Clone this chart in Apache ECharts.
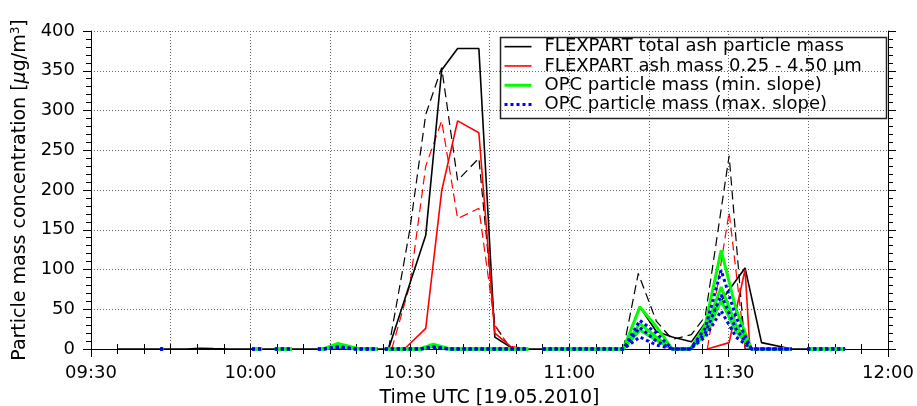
<!DOCTYPE html>
<html>
<head>
<meta charset="utf-8">
<script src="https://cdn.jsdelivr.net/npm/echarts@6/dist/echarts.min.js"></script>
<style>html,body{margin:0;padding:0;background:#fff}#c{width:917px;height:406px}</style>
</head>
<body>
<div id="c"></div>
<script>
// Times are minutes since 00:00 UTC
const xTickMinutes = [570, 600, 630, 660, 690, 720];

// FLEXPART total ash particle mass (solid)
const flexTotTime = [575, 588, 590.5, 593, 596, 626, 630, 633, 636, 639, 643, 646, 649, 652, 670.2, 673.3, 676.4, 679.4, 683.0, 693.1, 696.2, 701.9, 712];
const flexTotVal  = [0, 0, 1, 0.5, 0, 0, 82, 143, 351, 378, 378, 15, 2, 0, 0, 53, 22, 15, 9, 102, 8, 0, 0];

// FLEXPART total (dashed variant)
const flexTotDTime = [626, 630, 633, 636, 639, 643, 646, 649, 652, 670.2, 673.0, 676.4, 679.4, 683.0, 685.6, 690.1, 693.1, 696];
const flexTotDVal  = [0, 150, 295, 354, 212, 240, 30, 0, null, 0, 95, 35, 12, 18, 41, 243, 0, 0];

// FLEXPART ash mass 0.25-4.50 um (solid); null = not drawn
const flexSmTime = [629, 633, 636, 639, 643, 646, 649, 652, 670, 686, 690.1, 693.1, 694.0];
const flexSmVal  = [0, 26, 199, 287, 272, 20, 3, 0, null, 0, 8, 100, 0];

// FLEXPART ash mass 0.25-4.50 um (dashed variant)
const flexSmDTime = [626.6, 630, 633, 636, 639, 643, 646, 649, 670, 686, 690.1, 693.1];
const flexSmDVal  = [0, 80, 230, 287, 164, 177, 30, 0, null, 0, 172, 0];

// OPC time base (null values = no data)
const opcTime = [583.0, 583.6, 590, 600.3, 602.2, 603.4, 604.6, 607.8, 610, 612.7, 613.7, 616.5, 620.0, 624.0, 624.6, 625.3, 631.9, 634.4, 637.6, 652.3, 653.6, 655.0, 670.2, 673.3, 676.4, 679.4, 682.8, 685.6, 688.6, 691.4, 694.3, 701.9, 703.3, 704.8, 711.9];
// OPC min. slope (green), three curves
const opcMinA = [0, 0, null, 0, 0, null, 0, 0, null, 0, 0, 7, 1, 0, null, 0, 0, 6, 0, 0, null, 0, 0, 53, 28, 0, 0, 30, 124, 50, 0, 0, null, 0, 0];
const opcMinB = [0, 0, null, 0, 0, null, 0, 0, null, 0, 0, 4, 1, 0, null, 0, 0, 4, 0, 0, null, 0, 0, 32, 15, 0, 0, 24, 78, 30, 0, 0, null, 0, 0];
const opcMinC = [0, 0, null, 0, 0, null, 0, 0, null, 0, 0, 3, 0, 0, null, 0, 0, 3, 0, 0, null, 0, 0, 24, 11, 0, 0, 18, 61, 22, 0, 0, null, 0, 0];
// OPC max. slope (blue), three curves
const opcMaxA = [0, 0, null, 0, 0, null, 0, 0, null, 0, 0, 3, 0, 0, null, 0, 0, 3, 0, 0, null, 0, 0, 36, 20, 0, 0, 26, 99, 40, 0, 0, null, 0, 0];
const opcMaxB = [0, 0, null, 0, 0, null, 0, 0, null, 0, 0, 2, 0, 0, null, 0, 0, 2, 0, 0, null, 0, 0, 27, 10, 0, 0, 20, 68, 25, 0, 0, null, 0, 0];
const opcMaxC = [0, 0, null, 0, 0, null, 0, 0, null, 0, 0, 1, 0, 0, null, 0, 0, 1, 0, 0, null, 0, 0, 15, 5, 0, 0, 15, 48, 15, 0, 0, null, 0, 0];

const N_TOT = 'FLEXPART total ash particle mass';
const N_SM = 'FLEXPART ash mass 0.25 - 4.50 \u03bcm';
const N_MIN = 'OPC particle mass (min. slope)';
const N_MAX = 'OPC particle mass (max. slope)';

function pairs(t, v) { return t.map((x, i) => [x, v[i] === null ? '-' : v[i]]); }
function pad(n) { return (n < 10 ? '0' : '') + n; }
function fmt(v) { return xTickMinutes.indexOf(v) >= 0 ? pad(Math.floor(v / 60)) + ':' + pad(v % 60) : ''; }

const FONT = 'DejaVu Sans';
const dotted = { color: '#666', type: [1, 2], width: 1 };
const blk = { color: '#000', width: 1 };

function line(name, data, color, width, type) {
  return { name, type: 'line', data, symbol: 'none', showSymbol: false, clip: false, animation: false,
    connectNulls: false,
    lineStyle: { color, width, type: type || 'solid' }, itemStyle: { color } };
}

const chart = echarts.init(document.getElementById('c'), null, { renderer: 'canvas' });
chart.setOption({
  backgroundColor: '#fff',
  animation: false,
  grid: { left: 91, right: 29, top: 31, bottom: 57, containLabel: false, outerBoundsMode: 'none' },
  xAxis: [
    { type: 'value', min: 570, max: 720, interval: 30, position: 'bottom',
      axisLine: { lineStyle: blk }, axisTick: { length: 8, lineStyle: blk },
      minorTick: { show: true, splitNumber: 6, length: 5, lineStyle: blk },
      axisLabel: { formatter: fmt, fontFamily: FONT, fontSize: 18, color: '#000', margin: 15 },
      splitLine: { show: false },
      name: 'Time UTC [19.05.2010]', nameLocation: 'middle', nameGap: 40,
      nameTextStyle: { fontFamily: FONT, fontSize: 19, color: '#000' } },
    { type: 'value', min: 570, max: 720, interval: 15, position: 'top',
      axisLine: { lineStyle: blk }, axisTick: { length: 5, lineStyle: blk },
      minorTick: { show: true, splitNumber: 3, length: 5, lineStyle: blk },
      axisLabel: { show: false }, splitLine: { show: true, lineStyle: dotted } }
  ],
  yAxis: [
    { type: 'value', min: 0, max: 400, interval: 50, position: 'left',
      axisLine: { show: true, lineStyle: blk }, axisTick: { show: true, length: 8, lineStyle: blk },
      minorTick: { show: true, splitNumber: 5, length: 5, lineStyle: blk },
      axisLabel: { fontFamily: FONT, fontSize: 18, color: '#000', margin: 16 },
      splitLine: { show: true, lineStyle: dotted },
      name: 'Particle mass concentration [{i|\u03bc}g/m{s|3}]', nameLocation: 'middle', nameGap: 61, nameRotate: 90,
      nameTextStyle: { fontFamily: FONT, fontSize: 19, color: '#000',
        rich: { i: { fontFamily: FONT, fontSize: 19, fontStyle: 'italic', color: '#000' },
                s: { fontFamily: FONT, fontSize: 12, color: '#000', verticalAlign: 'top', padding: [0, 0, 8, 0] } } } },
    { type: 'value', min: 0, max: 400, interval: 50, position: 'right',
      axisLine: { show: true, lineStyle: blk }, axisTick: { show: true, length: 8, lineStyle: blk },
      minorTick: { show: true, splitNumber: 5, length: 5, lineStyle: blk },
      axisLabel: { show: false }, splitLine: { show: false } }
  ],
  graphic: [
    { type: 'rect', left: 498, top: 35, shape: { width: 386, height: 81 }, z: 10,
      style: { fill: 'none', stroke: '#222', lineWidth: 1.5 } }
  ],
  legend: {
    data: [N_TOT, N_SM, N_MIN, N_MAX],
    orient: 'vertical', left: 503, top: 37, padding: 0, itemGap: 0,
    itemWidth: 27, itemHeight: 14, z: 11,
    itemStyle: { opacity: 0, borderWidth: 0 },
    lineStyle: { width: 'inherit' },
    textStyle: { fontFamily: FONT, fontSize: 18, color: '#000', lineHeight: 19.3, padding: [0, 0, 0, 8] }
  },
  series: [
    line('FLEXPART total (variant)', pairs(flexTotDTime, flexTotDVal), '#000', 1.2, [9, 5]),
    line('FLEXPART small (variant)', pairs(flexSmDTime, flexSmDVal), '#ff0000', 1.2, [9, 5]),
    line(N_TOT, pairs(flexTotTime, flexTotVal), '#000', 1.6),
    line(N_SM, pairs(flexSmTime, flexSmVal), '#ff0000', 1.6),
    line(N_MIN, pairs(opcTime, opcMinA), '#00ff00', 3),
    line(N_MIN, pairs(opcTime, opcMinB), '#00ff00', 3),
    line(N_MIN, pairs(opcTime, opcMinC), '#00ff00', 3),
    line(N_MAX, pairs(opcTime, opcMaxA), '#0000ff', 3, [3, 3]),
    line(N_MAX, pairs(opcTime, opcMaxB), '#0000ff', 3, [3, 3]),
    line(N_MAX, pairs(opcTime, opcMaxC), '#0000ff', 3, [3, 3])
  ]
});
</script>
</body>
</html>
